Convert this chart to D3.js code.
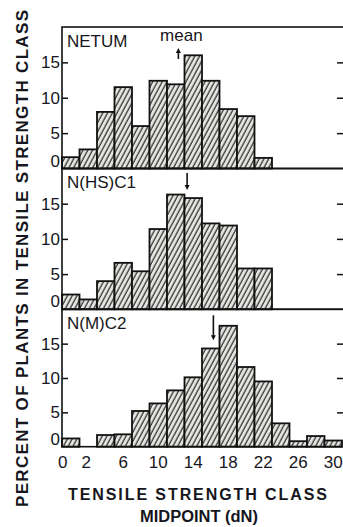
<!DOCTYPE html>
<html><head><meta charset="utf-8">
<script src="https://cdn.jsdelivr.net/npm/d3@7"></script>
<style>
html,body{margin:0;padding:0;background:#fff;}
svg{display:block;}
text{font-family:"Liberation Sans",Arial,Helvetica,sans-serif;fill:#161620;}
</style></head>
<body>
<script>
// Class midpoints (dN)
const midpoints = [0,2,4,6,8,10,12,14,16,18,20,22,24,26,28,30];
const xTickLabels = [0,2,6,10,14,18,22,26,30];
const yTickLabels = [0,5,10,15];
const panelNames = ["NETUM","N(HS)C1","N(M)C2"];
const netum   = [1.6,2.7,8.0,11.5,6.0,12.4,11.9,16.0,12.4,8.4,7.4,1.5,0,0,0,0];
const nhsc1   = [2.1,1.4,4.0,6.6,5.4,11.4,16.3,15.8,12.2,11.9,5.8,5.8,0,0,0,0];
const nmc2    = [1.2,0,1.7,1.8,5.2,6.3,8.2,10.1,14.3,17.6,11.6,9.5,3.4,0.8,1.55,0.9];
const means   = [12.3,13.3,16.3];
const series = [netum,nhsc1,nmc2];

const W=343,H=527;
const svg=d3.select("body").append("svg").attr("width",W).attr("height",H);
const defs=svg.append("defs");
const pat=defs.append("pattern").attr("id","hatch").attr("patternUnits","userSpaceOnUse")
  .attr("width",4.2).attr("height",8).attr("patternTransform","rotate(28)");
pat.append("rect").attr("width",4.2).attr("height",8).attr("fill","#e4e4e0");
pat.append("line").attr("x1",1).attr("y1",0).attr("x2",1).attr("y2",8)
  .attr("stroke","#2a2a2a").attr("stroke-width",1.2);

const x=d3.scaleLinear().domain([-1,31]).range([62,342]);
const bw=x(2)-x(0);
const tops=[27,168.5,309.3], bots=[168.5,309.3,446.7];
const frameL=62, frameR=345;

series.forEach((vals,p)=>{
  const y=d3.scaleLinear().domain([0,20]).range([bots[p],tops[p]]);
  const g=svg.append("g");
  g.selectAll("rect.bar").data(vals.map((v,i)=>({v,m:midpoints[i]})).filter(d=>d.v>0))
   .enter().append("rect").attr("class","bar")
   .attr("x",d=>x(d.m)-bw/2).attr("width",bw)
   .attr("y",d=>y(d.v)).attr("height",d=>y(0)-y(d.v))
   .attr("fill","url(#hatch)").attr("stroke","#111").attr("stroke-width",1.8);
  g.append("rect").attr("x",frameL).attr("y",tops[p]).attr("width",frameR-frameL)
   .attr("height",bots[p]-tops[p]).attr("fill","none").attr("stroke","#111").attr("stroke-width",1.6);
  const ax=d3.axisRight(y).tickValues(yTickLabels).tickSize(6).tickFormat("");
  const ga=g.append("g").attr("transform",`translate(${frameL},0)`).call(ax);
  ga.select(".domain").remove();
  ga.selectAll(".tick line").attr("stroke","#111").attr("stroke-width",1.5)
    .filter(d=>d===0).remove();
  const axr=d3.axisLeft(y).tickValues(yTickLabels.filter(d=>d>0)).tickSize(6).tickFormat("");
  const gr=g.append("g").attr("transform",`translate(343,0)`).call(axr);
  gr.select(".domain").remove();
  gr.selectAll(".tick line").attr("stroke","#111").attr("stroke-width",1.5);
  g.selectAll("text.yl").data(yTickLabels).enter().append("text").attr("class","yl")
   .attr("x",60).attr("y",d=>y(d)+(d===0?-2:6)).attr("text-anchor","end")
   .attr("font-size",17).text(d=>d);
  g.append("text").attr("x",67).attr("y",tops[p]+19.5).attr("font-size",17).text(panelNames[p]);
  const mx=x(means[p]);
  if(p===0){
    const yb=tops[p]+32, yt=tops[p]+21;
    g.append("line").attr("x1",mx).attr("x2",mx).attr("y1",yb).attr("y2",yt+4).attr("stroke","#111").attr("stroke-width",1.6);
    g.append("path").attr("d",`M${mx-2.5},${yt+5}L${mx},${yt}L${mx+2.5},${yt+5}Z`).attr("fill","#111");
    g.append("text").attr("x",mx+3).attr("y",tops[p]+13.5).attr("text-anchor","middle").attr("font-size",17).text("mean");
  } else {
    const yt=tops[p]+(p===1?4.5:6), yb=tops[p]+(p===1?21.5:31);
    g.append("line").attr("x1",mx).attr("x2",mx).attr("y1",yt).attr("y2",yb-4).attr("stroke","#111").attr("stroke-width",1.6);
    g.append("path").attr("d",`M${mx-2.5},${yb-5}L${mx},${yb}L${mx+2.5},${yb-5}Z`).attr("fill","#111");
  }
});

svg.selectAll("text.xl").data(xTickLabels).enter().append("text").attr("class","xl")
  .attr("x",d=>x(d)).attr("dx",d=>d===0?-8:(d===2?-2:0)).attr("y",467.5)
  .attr("text-anchor","middle").attr("font-size",17).text(d=>d);

svg.append("text").attr("x",197.5).attr("y",500).attr("text-anchor","middle")
  .attr("font-size",16).attr("font-weight","bold").attr("textLength",259).attr("lengthAdjust","spacing")
  .text("TENSILE STRENGTH CLASS");
svg.append("text").attr("x",199).attr("y",522).attr("text-anchor","middle")
  .attr("font-size",16).attr("font-weight","bold").attr("textLength",118).attr("lengthAdjust","spacingAndGlyphs")
  .text("MIDPOINT (dN)");
svg.append("text").attr("transform","translate(28,258.5) rotate(-90)").attr("text-anchor","middle")
  .attr("font-size",17).attr("font-weight","bold").attr("textLength",497).attr("lengthAdjust","spacing")
  .text("PERCENT OF PLANTS IN TENSILE STRENGTH CLASS");
</script>
</body></html>
